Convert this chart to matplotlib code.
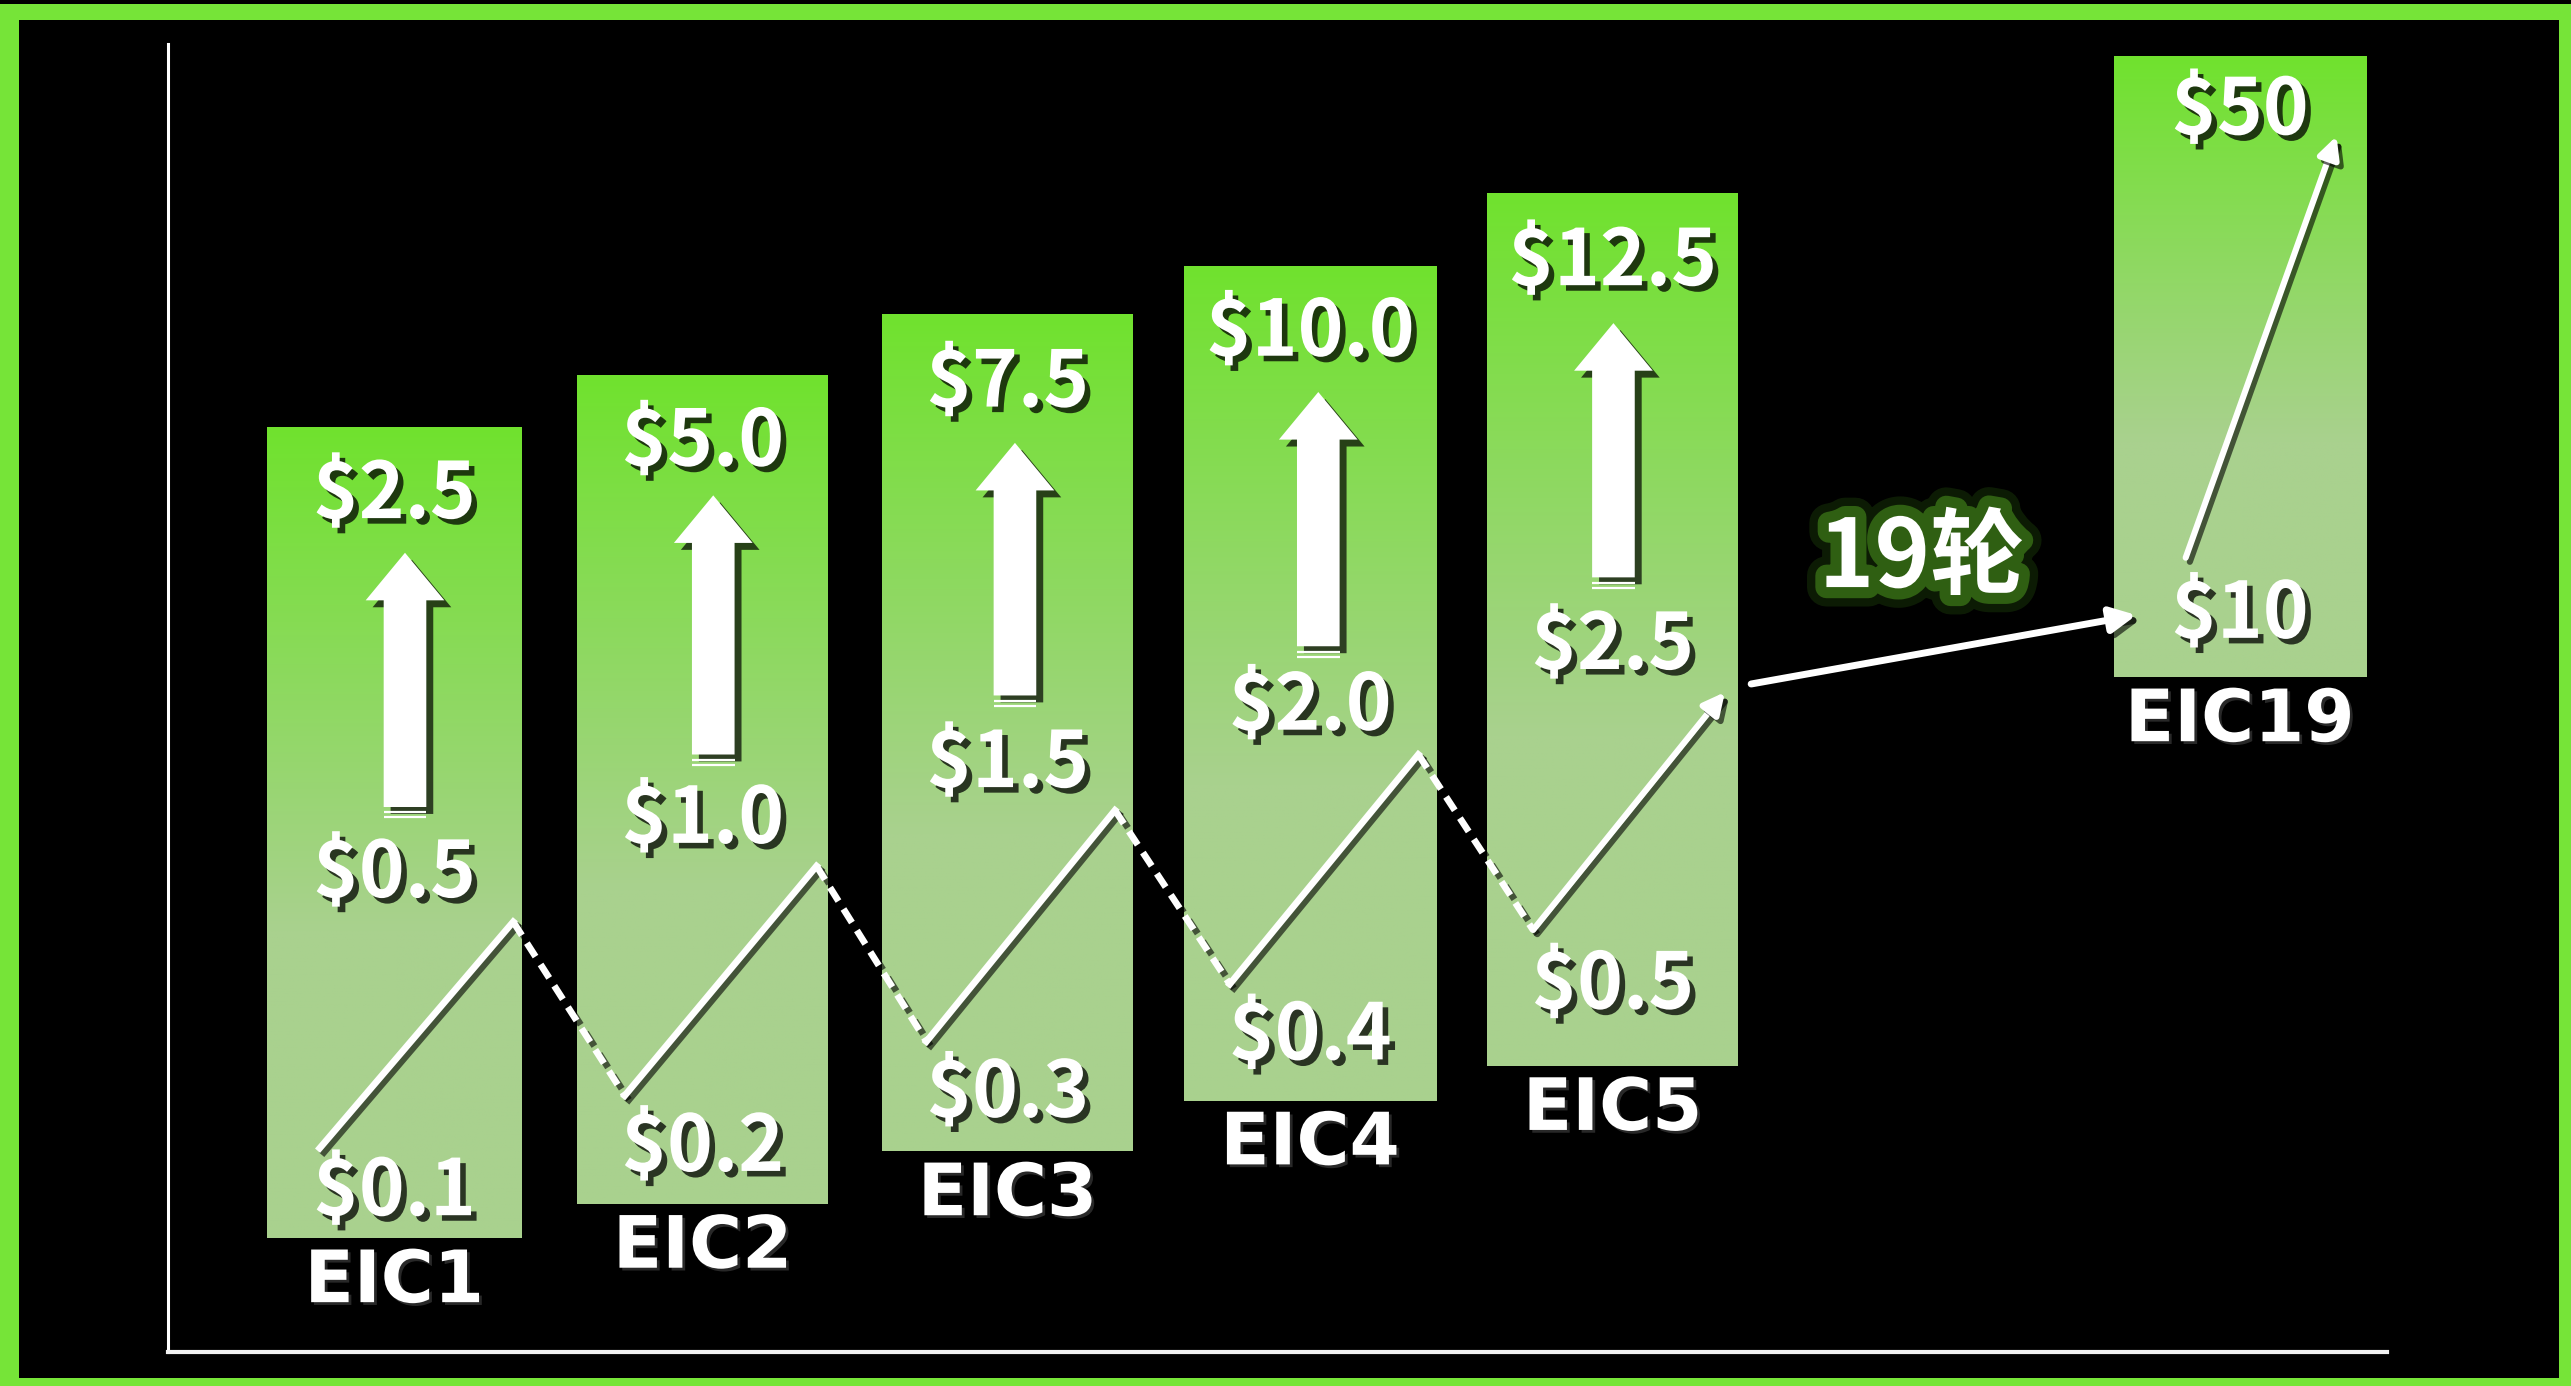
import matplotlib
matplotlib.use("Agg")
import matplotlib.pyplot as plt
import matplotlib.patheffects as pe
from matplotlib.patches import FancyArrow, Rectangle
import numpy as np

# data
rounds = ["EIC1", "EIC2", "EIC3", "EIC4", "EIC5", "EIC19"]
start_price = [0.1, 0.2, 0.3, 0.4, 0.5, 10]
peak_price = [0.5, 1.0, 1.5, 2.0, 2.5]
target_price = [2.5, 5.0, 7.5, 10.0, 12.5, 50]
decimals = [1, 1, 1, 1, 1, 0]
gap_label = "19轮"

# layout (canvas units, y down)
bar_left = [163, 352, 538, 722, 907, 1289]
bar_right = [318, 505, 691, 876, 1060, 1443]
bar_top = [261, 229, 192, 162, 118, 35]
bar_bottom = [755, 734, 702, 671, 650, 413]
target_y = [302, 270, 234, 203, 160, 68]
peak_y = [533, 500, 466, 431, 394]
start_y = [727, 700, 667, 632, 601, 375]
low_pt = [(195, 700), (381, 668), (565, 635), (750, 600), (935, 567)]
high_pt = [(313, 562), (498, 528), (680, 494), (865, 460), (1052, 422)]
up_x = [247, 435, 619, 804, 984]
up_top = [337, 302, 270, 239, 197]
up_bot = [492, 460, 424, 394, 352]

green = "#76E438"
top_col = np.array([0x70, 0xE2, 0x2E]) / 255
low_col = np.array([0xA9, 0xD1, 0x8E]) / 255
font = ["Noto Sans CJK SC", "DejaVu Sans"]

fig = plt.figure(figsize=(25.71, 13.86), dpi=100)
fig.patch.set_facecolor("black")

# outer green frame
bg = fig.add_axes([0, 0, 1, 1])
bg.set_xlim(0, 1568)
bg.set_ylim(845, 0)
bg.axis("off")
bg.add_patch(Rectangle((0, 0), 1568, 845, fc=green, ec="none"))
bg.add_patch(Rectangle((0, 0), 1568, 2.4, fc="black", ec="none"))
bg.add_patch(Rectangle((11.6, 12.2), 1549, 828, fc="black", ec="none"))
plt.rcParams["hatch.linewidth"] = 9
plt.rcParams["hatch.color"] = "#1b3f12"
bg.add_patch(Rectangle((1280, 820), 280, 20, fc="none", ec="none", hatch="/"))

# axis frame
frame = fig.add_axes([102.5 / 1568, 1 - 824 / 845, (1456 - 102.5) / 1568, (824 - 27) / 845])
frame.set_facecolor("none")
for s in ["top", "right"]:
    frame.spines[s].set_visible(False)
frame.spines["left"].set_color("white")
frame.spines["left"].set_linewidth(2.2)
frame.spines["bottom"].set_color("#f2f2f2")
frame.spines["bottom"].set_linewidth(3)
frame.set_xticks([])
frame.set_yticks([])

ax = fig.add_axes([0, 0, 1, 1])
ax.set_facecolor("none")
ax.axis("off")

shadow_txt = [pe.withSimplePatchShadow(offset=(4, -4), shadow_rgbFace="black", alpha=0.75)]
shadow_line = [pe.SimpleLineShadow(offset=(3, -3), shadow_color="black", alpha=0.6), pe.Normal()]

# bars with vertical gradient
n = 300
t = np.clip(np.linspace(0, 1, n) / 0.62, 0, 1)[:, None]
grad = (top_col * (1 - t) + low_col * t)[:, None, :]
for i in range(len(rounds)):
    ax.imshow(grad, extent=(bar_left[i], bar_right[i], bar_bottom[i], bar_top[i]),
              origin="upper", aspect="auto", zorder=1)
    cx = (bar_left[i] + bar_right[i]) / 2
    fmt = "${:.%df}" % decimals[i]
    ax.text(cx, target_y[i], fmt.format(target_price[i]), ha="center", va="center",
            fontsize=56, fontweight="bold", color="white", family=font,
            path_effects=shadow_txt, zorder=5)
    ax.text(cx, start_y[i], fmt.format(start_price[i]), ha="center", va="center",
            fontsize=56, fontweight="bold", color="white", family=font,
            path_effects=shadow_txt, zorder=5)
    ax.text(cx, bar_bottom[i] + 27, rounds[i], ha="center", va="center",
            fontsize=52, fontweight="bold", color="white", family="DejaVu Sans",
            path_effects=[pe.withSimplePatchShadow(offset=(2, -2), shadow_rgbFace="#333333", alpha=0.8)],
            zorder=5)

# mid prices and big up arrows
for i in range(len(peak_price)):
    cx = (bar_left[i] + bar_right[i]) / 2
    ax.text(cx, peak_y[i], "${:.1f}".format(peak_price[i]), ha="center", va="center",
            fontsize=56, fontweight="bold", color="white", family=font,
            path_effects=shadow_txt, zorder=5)
    arr = FancyArrow(up_x[i], up_bot[i], 0, up_top[i] - up_bot[i], width=26,
                     head_width=48, head_length=29, length_includes_head=True,
                     fc="white", ec="none", zorder=4,
                     path_effects=[pe.SimplePatchShadow(offset=(5, -5), shadow_rgbFace="black", alpha=0.7),
                                   pe.Normal()])
    ax.add_patch(arr)
    for k in (3.2, 6.4):
        ax.plot([up_x[i] - 13, up_x[i] + 13], [up_bot[i] + k] * 2, color="white",
                lw=1.6, solid_capstyle="butt", zorder=4)

# zigzag price path
for i in range(len(low_pt)):
    (x0, y0), (x1, y1) = low_pt[i], high_pt[i]
    if i < len(low_pt) - 1:
        ax.plot([x0, x1], [y0, y1], color="white", lw=4.8, zorder=3, path_effects=shadow_line)
        nx, ny = low_pt[i + 1]
        ax.plot([x1, nx], [y1, ny], color="white", lw=4.8, dashes=(2.4, 1.4), zorder=3,
                path_effects=shadow_line)
    else:
        ax.annotate("", xy=(x1, y1), xytext=(x0, y0), zorder=3,
                    arrowprops=dict(arrowstyle="-|>", color="white", lw=4.4, mutation_scale=32,
                                    shrinkA=0, shrinkB=0, path_effects=shadow_line))

# jump to EIC19
ax.annotate("", xy=(1303, 375), xytext=(1068, 417), zorder=3,
            arrowprops=dict(arrowstyle="-|>", color="white", lw=5, mutation_scale=38,
                            shrinkA=0, shrinkB=0, path_effects=shadow_line))
ax.annotate("", xy=(1425, 83), xytext=(1333, 340), zorder=3,
            arrowprops=dict(arrowstyle="-|>", color="white", lw=4.4, mutation_scale=32,
                            shrinkA=0, shrinkB=0, path_effects=shadow_line))
ax.text(1172, 341, gap_label, ha="center", va="center", fontsize=68, fontweight="bold",
        color="white", family=font, zorder=5,
        path_effects=[pe.withStroke(linewidth=28, foreground="#2a5a10", alpha=0.3),
                      pe.withStroke(linewidth=16, foreground="#2f5f12")])

ax.set_xlim(0, 1568)
ax.set_ylim(845, 0)

fig.savefig("out.png", dpi=100, facecolor="black")
